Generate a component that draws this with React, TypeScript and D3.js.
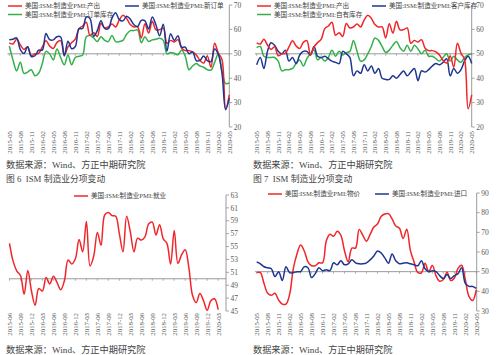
import React from "react";
import * as d3 from "d3";

const W = 500;
const H = 355;

// ---------- categories ----------
const fmt = d3.timeFormat("%Y-%m");
const monthsMay15 = d3.timeMonth.range(new Date(2015, 4, 1), new Date(2020, 5, 1)).map(fmt); // 2015-05 .. 2020-05
const monthsJun15 = d3.timeMonth.range(new Date(2015, 5, 1), new Date(2020, 5, 1)).map(fmt); // 2015-06 .. 2020-05

const tickLabelsMay = ["2015-05","2015-08","2015-11","2016-02","2016-05","2016-08","2016-11","2017-02","2017-05","2017-08","2017-11","2018-02","2018-05","2018-08","2018-11","2019-02","2019-05","2019-08","2019-11","2020-02","2020-05"];
const tickLabelsJun = ["2015-06","2015-09","2015-12","2016-03","2016-06","2016-09","2016-12","2017-03","2017-06","2017-09","2017-12","2018-03","2018-06","2018-09","2018-12","2019-03","2019-06","2019-09","2019-12","2020-03"];

// ---------- series (2015-05 .. 2020-05) ----------
const production = [54.5,54.0,56.0,53.6,51.8,52.9,49.2,49.9,50.2,52.8,55.3,53.2,52.2,54.7,55.4,49.6,52.8,54.6,56.0,60.3,61.4,62.9,57.6,58.6,57.1,62.4,60.6,61.0,62.2,61.0,63.9,65.8,64.5,62.0,61.0,61.0,56.5,62.3,58.5,63.3,59.8,59.9,60.6,54.3,55.5,54.8,55.8,52.3,51.3,51.3,50.8,49.5,47.3,46.2,49.1,44.5,54.3,50.3,47.7,27.5,33.2];
const newOrders = [55.8,56.0,56.5,51.7,50.1,52.9,48.9,49.2,51.5,51.5,58.3,55.8,55.7,57.0,56.9,49.1,55.1,52.1,53.0,60.2,60.4,65.1,64.5,57.2,59.5,63.5,60.4,60.3,64.6,66.8,64.0,63.5,65.4,64.2,61.9,61.2,63.7,63.5,60.2,65.1,61.8,57.4,62.1,51.1,58.2,55.5,57.4,52.7,52.7,50.0,50.8,47.2,47.3,49.1,47.2,46.8,52.0,49.8,42.2,27.1,31.8];
const backlog = [53.2,47.5,43.0,46.5,42.0,42.5,43.5,41.0,42.0,46.0,51.0,50.0,47.5,52.0,48.5,45.5,49.5,45.5,48.5,49.0,49.5,57.0,57.5,56.5,55.0,57.0,55.5,55.0,57.5,55.0,55.0,55.5,58.0,59.5,59.5,59.8,54.5,57.0,55.0,55.7,56.0,56.4,55.5,50.0,50.5,50.2,49.6,51.6,49.0,43.5,45.0,46.0,45.0,44.5,43.5,43.3,46.5,50.0,42.8,37.8,38.0];
const customerInv = [45.5,48.5,44.0,51.0,54.5,53.5,51.0,50.0,51.5,47.0,48.5,46.0,49.5,51.0,51.0,49.5,53.0,49.0,48.5,49.0,48.0,47.0,46.5,46.0,51.0,50.0,48.5,41.0,43.0,42.0,45.5,43.0,45.0,42.0,44.0,40.0,39.5,39.5,41.0,40.0,41.5,43.0,41.0,42.5,44.0,39.0,43.0,42.5,43.5,45.0,46.0,45.5,46.5,48.0,41.0,44.0,42.0,43.5,47.0,49.0,46.0];
const ownInv = [52.5,53.0,49.0,48.5,48.5,48.5,47.0,43.0,43.5,43.5,44.0,46.0,47.5,45.0,48.0,50.0,51.5,47.5,48.5,47.0,48.5,51.5,49.0,51.0,49.5,50.5,51.0,55.5,51.0,47.0,47.5,50.0,53.0,56.5,55.5,53.0,50.5,51.5,53.5,55.0,52.5,51.0,53.5,51.0,53.5,52.0,50.0,51.5,49.0,49.0,48.0,47.0,48.5,50.0,47.0,49.0,47.5,46.5,48.5,49.5,50.0];
const prices = [49.5,49.5,44.0,39.0,38.0,39.0,35.5,33.5,33.5,38.5,51.5,59.0,63.5,60.5,55.0,53.0,53.0,54.5,54.5,65.5,69.0,68.0,70.5,68.5,60.5,55.0,62.0,62.0,71.5,68.5,65.5,69.0,72.7,74.2,78.1,79.3,79.5,76.8,73.2,72.1,66.9,71.6,60.7,54.9,49.6,49.4,54.3,50.0,53.2,47.9,45.1,46.0,49.7,45.5,46.7,51.7,53.3,45.9,37.4,35.3,40.8];
const imports = [55.0,54.0,52.5,52.0,51.5,47.5,50.0,45.5,52.5,49.5,49.5,50.0,50.0,52.5,52.0,47.0,49.0,52.0,50.5,51.0,50.5,54.5,53.5,55.5,53.5,54.0,56.0,54.5,54.0,54.0,54.5,56.0,58.0,60.5,59.5,57.0,54.3,59.0,55.5,54.0,54.3,54.5,54.0,53.5,53.0,55.5,51.5,50.0,50.5,50.0,48.0,46.5,48.5,46.5,48.0,49.0,52.0,44.0,42.5,42.5,41.5];
// (2015-06 .. 2020-03)
const employment = [55.5,52.7,51.2,50.5,47.6,51.3,48.1,45.9,48.5,48.1,50.2,49.2,50.4,49.4,48.3,49.7,52.9,52.3,53.1,56.1,54.2,58.9,52.0,53.5,57.2,55.2,59.9,60.3,59.8,59.7,57.0,54.2,59.7,57.3,54.2,56.3,56.0,56.5,58.5,58.8,56.8,58.4,56.2,55.5,52.3,57.5,52.4,53.7,54.5,51.7,47.4,46.3,47.7,46.6,45.1,46.6,46.9,45.2];

// ---------- labels ----------
const nmProd = "美国:ISM:制造业PMI:产出";
const nmNew = "美国:ISM:制造业PMI:新订单";
const nmBack = "美国:ISM:制造业PMI:订单库存";
const nmCust = "美国:ISM:制造业PMI:客户库存";
const nmOwn = "美国:ISM:制造业PMI:自有库存";
const nmEmp = "美国:ISM:制造业PMI:就业";
const nmPrice = "美国:ISM:制造业PMI:物价";
const nmImp = "美国:ISM:制造业PMI:进口";
const sourceText = "数据来源：Wind、方正中期研究院";
const caption6 = "图 6  ISM 制造业分项变动";
const caption7 = "图 7  ISM 制造业分项变动";

const RED = "#f0262b";
const BLUE = "#1f3690";
const GREEN = "#34b04a";
const GREY = "#8f8f8f";
const TXT = "#404040";
const SERIF = "'Liberation Serif', 'Noto Sans CJK SC', serif";

type Series = { values: number[]; color: string };
type Legend = { name: string; color: string; x: number; y: number };
type Cfg = {
  months: string[];
  ticks: string[];
  x0: number; x1: number; axisX: number; baseX0: number;
  yDomain: [number, number]; yRange: [number, number]; yTicks: number[];
  base: number; labelY: number;
  series: Series[]; legend: Legend[];
};

const panels: Cfg[] = [
  {
    months: monthsMay15, ticks: tickLabelsMay,
    x0: 9.3, x1: 229.3, axisX: 229.3, baseX0: 7.5,
    yDomain: [20, 70], yRange: [127, 5], yTicks: d3.range(20, 71, 10),
    base: 50, labelY: 131,
    series: [{ values: backlog, color: GREEN }, { values: production, color: RED }, { values: newOrders, color: BLUE }],
    legend: [
      { name: nmProd, color: RED, x: 8, y: 6 },
      { name: nmNew, color: BLUE, x: 125, y: 6 },
      { name: nmBack, color: GREEN, x: 8, y: 14.5 },
    ],
  },
  {
    months: monthsMay15, ticks: tickLabelsMay,
    x0: 256.7, x1: 471.7, axisX: 471.7, baseX0: 255,
    yDomain: [20, 70], yRange: [127, 5], yTicks: d3.range(20, 71, 10),
    base: 50, labelY: 131,
    series: [{ values: ownInv, color: GREEN }, { values: customerInv, color: BLUE }, { values: production, color: RED }],
    legend: [
      { name: nmProd, color: RED, x: 257, y: 6 },
      { name: nmCust, color: BLUE, x: 372, y: 6 },
      { name: nmOwn, color: GREEN, x: 257, y: 14.5 },
    ],
  },
  {
    months: monthsJun15, ticks: tickLabelsJun,
    x0: 9.5, x1: 225.5, axisX: 226, baseX0: 9,
    yDomain: [45, 63], yRange: [311, 195], yTicks: d3.range(45, 64, 2),
    base: 50, labelY: 313,
    series: [{ values: employment, color: RED }],
    legend: [{ name: nmEmp, color: RED, x: 74, y: 196 }],
  },
  {
    months: monthsMay15, ticks: tickLabelsMay,
    x0: 256.7, x1: 476.3, axisX: 476.7, baseX0: 255,
    yDomain: [30, 90], yRange: [311, 193], yTicks: d3.range(30, 91, 10),
    base: 50, labelY: 313,
    series: [{ values: prices, color: RED }, { values: imports, color: BLUE }],
    legend: [
      { name: nmPrice, color: RED, x: 268, y: 194 },
      { name: nmImp, color: BLUE, x: 375, y: 194 },
    ],
  },
];

function Panel({ cfg }: { cfg: Cfg }) {
  const x = d3.scalePoint<string>().domain(cfg.months).range([cfg.x0, cfg.x1]);
  const y = d3.scaleLinear().domain(cfg.yDomain).range(cfg.yRange);
  const by = y(cfg.base);
  const mkLine = d3
    .line<number>()
    .x((_, i) => x(cfg.months[i]) as number)
    .y((d) => y(d))
    .curve(d3.curveCatmullRom.alpha(0.5));
  return (
    <g>
      <line x1={cfg.baseX0} x2={cfg.axisX} y1={by} y2={by} stroke={GREY} strokeWidth={0.9} />
      {cfg.ticks.map((t) => (
        <line key={"bt" + t} x1={x(t)} x2={x(t)} y1={by} y2={by + 2} stroke={GREY} strokeWidth={0.7} />
      ))}
      <line x1={cfg.axisX} x2={cfg.axisX} y1={y(cfg.yDomain[1])} y2={y(cfg.yDomain[0])} stroke={GREY} strokeWidth={0.9} />
      {cfg.yTicks.map((v) => (
        <g key={"yt" + v}>
          <line x1={cfg.axisX} x2={cfg.axisX + 3} y1={y(v)} y2={y(v)} stroke={GREY} strokeWidth={0.8} />
          <text x={cfg.axisX + 4.5} y={y(v)} dy="0.35em" fontSize={7.5} fill="#595959" fontFamily={SERIF}>
            {v}
          </text>
        </g>
      ))}
      {cfg.ticks.map((t) => (
        <text
          key={"xl" + t}
          transform={`translate(${x(t)},${cfg.labelY}) rotate(-90)`}
          textAnchor="end"
          dy="0.35em"
          fontSize={6.8}
          fill="#595959"
          fontFamily={SERIF}
        >
          {t}
        </text>
      ))}
      {cfg.series.map((s, i) => (
        <path key={"s" + i} d={mkLine(s.values) || ""} fill="none" stroke={s.color} strokeWidth={1.5} />
      ))}
      {cfg.legend.map((l) => (
        <g key={"lg" + l.name}>
          <line x1={l.x} x2={l.x + 14} y1={l.y} y2={l.y} stroke={l.color} strokeWidth={1.5} />
          <text x={l.x + 17} y={l.y} dy="0.35em" fontSize={6.6} fill={TXT} fontFamily={SERIF}>
            {l.name}
          </text>
        </g>
      ))}
    </g>
  );
}

export default function App() {
  return (
    <svg
      width={W}
      height={H}
      viewBox={`0 0 ${W} ${H}`}
      style={{ position: "absolute", left: 0, top: 0, background: "#fff" }}
    >
      <rect x={0} y={0} width={W} height={H} fill="#fff" />
      {panels.map((p, i) => (
        <Panel key={i} cfg={p} />
      ))}
      <text x={6} y={165} dy="0.35em" fontSize={9.2} fill="#444" fontFamily={SERIF}>{sourceText}</text>
      <text x={253} y={165} dy="0.35em" fontSize={9.2} fill="#444" fontFamily={SERIF}>{sourceText}</text>
      <text x={6} y={179} dy="0.35em" fontSize={8.8} fill="#444" fontFamily={SERIF} xmlSpace="preserve">{caption6}</text>
      <text x={253} y={179} dy="0.35em" fontSize={8.8} fill="#444" fontFamily={SERIF} xmlSpace="preserve">{caption7}</text>
      <text x={6} y={350} dy="0.35em" fontSize={9.2} fill="#444" fontFamily={SERIF}>{sourceText}</text>
      <text x={253} y={350} dy="0.35em" fontSize={9.2} fill="#444" fontFamily={SERIF}>{sourceText}</text>
    </svg>
  );
}
